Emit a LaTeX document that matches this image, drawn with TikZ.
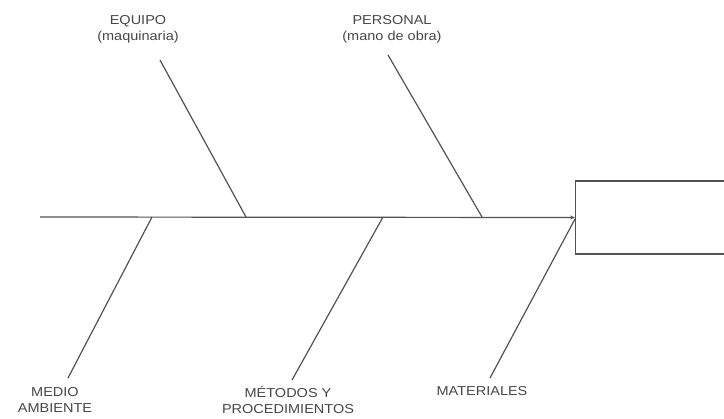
\documentclass[tikz,border=0pt]{standalone}
\usepackage{fontspec}
\setmainfont[FakeStretch=1.12]{Liberation Sans}
\usetikzlibrary{arrows.meta}
\begin{document}
\begin{tikzpicture}[x=1bp,y=-1bp,
  bone/.style={draw=black!68,line width=1.2bp},
  cause/.style={font=\fontsize{13}{16}\selectfont,text=black!72,align=center,inner sep=0pt},
  effectbox/.style={draw=black!68,line width=1.2bp,minimum width=170bp,minimum height=73bp,anchor=west,inner sep=0pt}]
  \useasboundingbox (0,0) rectangle (724,418);
  \clip (0,0) rectangle (724,418);

  % effect box (head of the fish)
  \node[effectbox] (effect) at (575,217.5) {};

  % spine
  \coordinate (tail) at (40,217);
  \draw[bone,-{Stealth[length=5bp,width=4bp]}] (tail) -- (effect.west);

  % junctions on the spine
  \coordinate (jEq) at (246,217);
  \coordinate (jPe) at (482,217);
  \coordinate (jMe) at (152,217);
  \coordinate (jMt) at (383,217);
  \coordinate (jMa) at (575,219);

  % cause labels
  \node[cause] (equipo) at (138,29) {EQUIPO\\(maquinaria)};
  \node[cause] (personal) at (392,29) {PERSONAL\\(mano de obra)};
  \node[cause] (medio) at (55,400) {MEDIO\\AMBIENTE};
  \node[cause] (metodos) at (288,400) {MÉTODOS Y\\PROCEDIMIENTOS};
  \node[cause] (materiales) at (482,391) {MATERIALES};

  % bone ends
  \coordinate (eEq) at (160,60);
  \coordinate (ePe) at (388,55);
  \coordinate (eMe) at (68,378);
  \coordinate (eMt) at (292,380);
  \coordinate (eMa) at (490,378);

  % bones
  \draw[bone] (eEq) -- (jEq);
  \draw[bone] (ePe) -- (jPe);
  \draw[bone] (eMe) -- (jMe);
  \draw[bone] (eMt) -- (jMt);
  \draw[bone] (eMa) -- (jMa);
\end{tikzpicture}
\end{document}
